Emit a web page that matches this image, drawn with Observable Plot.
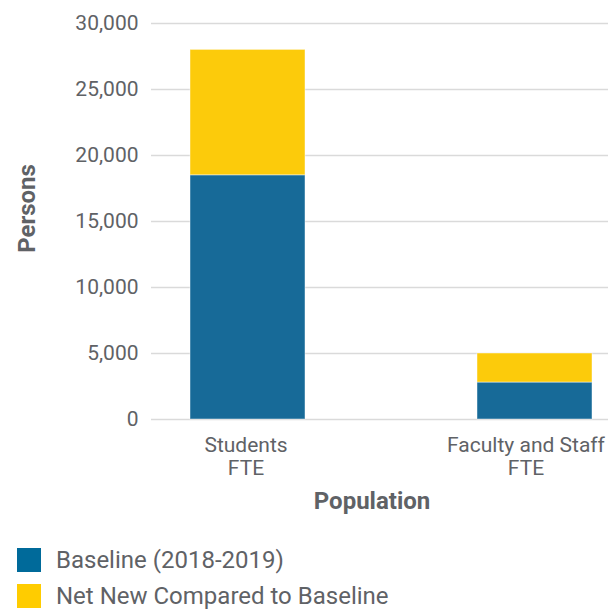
<!DOCTYPE html>
<html>
<head>
<meta charset="utf-8">
<script src="https://cdn.jsdelivr.net/npm/d3@7"></script>
<script src="https://cdn.jsdelivr.net/npm/@observablehq/plot@0.6"></script>
<style>
  body { margin: 0; background: #fff; font-family: Roboto, sans-serif; }
  #legend { margin-left: 17px; margin-top: 22px; }
  .row { display: flex; align-items: center; height: 36px; }
  .sw { width: 24px; height: 24px; margin-right: 15px; }
  .lab { font-size: 24px; font-weight: 400; color: #5f6266; }
</style>
</head>
<body>
<div id="chart"></div>
<div id="legend"></div>
<script>
const categories = ["Students FTE", "Faculty and Staff FTE"];
const tickLabels = ["Students\nFTE", "Faculty and Staff\nFTE"];
const series = ["Baseline (2018-2019)", "Net New Compared to Baseline"];
const baseline = [18500, 2800];
const netNew = [9500, 2200];
const yTicks = [0, 5000, 10000, 15000, 20000, 25000, 30000];
const colors = ["#176a98", "#fccb0b"];
const legendColors = ["#006a9a", "#ffcc00"];

const data = [];
categories.forEach((c, i) => {
  data.push({category: c, series: series[0], value: baseline[i]});
  data.push({category: c, series: series[1], value: netNew[i]});
});

const textColor = "#5f6266";
const fmtX = (d) => tickLabels[categories.indexOf(d)];
const chart = Plot.plot({
  width: 608,
  height: 520,
  marginLeft: 151,
  marginRight: 0,
  marginTop: 23,
  marginBottom: 101,
  style: {fontFamily: "Roboto, sans-serif", color: textColor, background: "#fff"},
  x: {domain: categories, paddingInner: 0.6, paddingOuter: 0.096, align: 0.707, label: null},
  y: {domain: [0, 30000], label: null},
  color: {domain: series, range: colors},
  marks: [
    Plot.gridY(yTicks, {stroke: "#dadada", strokeOpacity: 1, strokeWidth: 1.5}),
    Plot.barY(data, {x: "category", y: "value", fill: "series", stroke: "#ffffff", strokeOpacity: 0.45, strokeWidth: 1}),
    Plot.axisY({ticks: yTicks, tickSize: 0, tickPadding: 13, tickFormat: d3.format(","), fontSize: 21, fill: textColor, label: null}),
    Plot.axisX({ticks: [categories[0]], dx: -2, tickSize: 0, tickPadding: 16, tickFormat: fmtX, fontSize: 21, lineHeight: 1.1, fill: textColor, label: null}),
    Plot.axisX({ticks: [categories[1]], dx: -9, tickSize: 0, tickPadding: 16, tickFormat: fmtX, fontSize: 21, lineHeight: 1.1, fill: textColor, label: null}),
    Plot.text(["Persons"], {frameAnchor: "left", textAnchor: "middle", dx: -124, dy: -13, rotate: -90, fontSize: 24, fontWeight: "bold", fill: textColor}),
    Plot.text(["Population"], {frameAnchor: "bottom", textAnchor: "middle", dx: -8, dy: 89, fontSize: 24, fontWeight: "bold", fill: textColor})
  ]
});
document.getElementById("chart").append(chart);

const legend = document.getElementById("legend");
series.forEach((s, i) => {
  const row = document.createElement("div");
  row.className = "row";
  const sw = document.createElement("div");
  sw.className = "sw";
  sw.style.background = legendColors[i];
  const lab = document.createElement("div");
  lab.className = "lab";
  lab.textContent = s;
  row.append(sw, lab);
  legend.append(row);
});
</script>
</body>
</html>
